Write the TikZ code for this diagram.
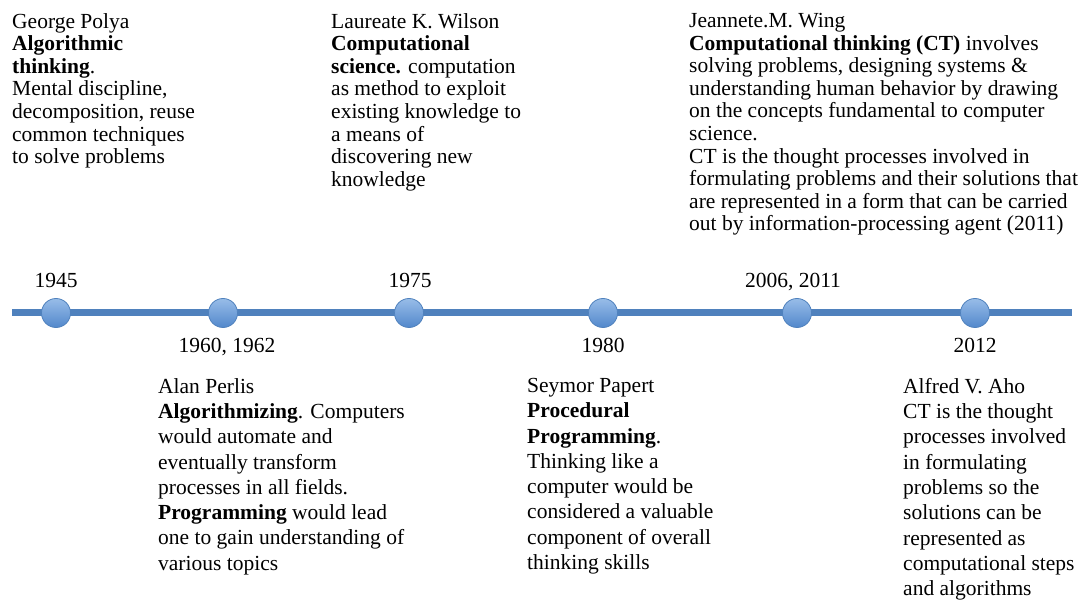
\documentclass[tikz,border=0pt]{standalone}
\usepackage{fontspec}
\setmainfont{Liberation Serif}
\usetikzlibrary{positioning}
\definecolor{lineblue}{RGB}{79,129,189}
\definecolor{dotblue}{RGB}{108,160,222}
\definecolor{dotdark}{RGB}{82,136,204}
\tikzset{
 event/.style={circle,minimum size=29pt,inner sep=0pt,draw=lineblue,line width=0.8pt,top color=dotblue!70!white,bottom color=dotdark},
 year/.style={anchor=base,inner sep=0pt,font=\fontsize{21.5}{22.6}\selectfont},
 upper/.style={anchor=north west,align=left,inner sep=0pt,font=\fontsize{21.5}{22.6}\selectfont},
 lower/.style={anchor=north west,align=left,inner sep=0pt,font=\fontsize{21.5}{25.3}\selectfont}
}

\begin{document}
\begin{tikzpicture}[x=1pt,y=-1pt]
\useasboundingbox (0,0) rectangle (1084,609);
% time line
\coordinate (tstart) at (12,313);
\coordinate (tend) at (1072,313);
\draw[lineblue,line width=7pt] (tstart) -- (tend);
\node[event] (e1945) at (56,313) {};
\node[event] (e1960) at (223,313) {};
\node[event] (e1975) at (409,313) {};
\node[event] (e1980) at (603,313) {};
\node[event] (e2006) at (797,313) {};
\node[event] (e2012) at (975,313) {};
% years
\node[year] (y1945) at (56,288) {1945};
\node[year] (y1975) at (410,288) {1975};
\node[year] (y2006) at (793,288) {2006, 2011};
\node[year] (y1960) at (227,353) {1960, 1962};
\node[year] (y1980) at (603,353) {1980};
\node[year] (y2012) at (975,353) {2012};
% above the line
\node[upper] (polya) at (12,13) {George Polya\\
 \textbf{Algorithmic}\\
 \textbf{thinking}.\\
 Mental discipline,\\
 decomposition, reuse\\
 common techniques\\
 to solve problems};
\node[upper] (wilson) at (331,13) {Laureate K. Wilson\\
 \textbf{Computational}\\
 \textbf{science.} computation\\
 as method to exploit\\
 existing knowledge to\\
 a means of\\
 discovering new\\
 knowledge};
\node[upper] (wing) at (689,13) {Jeannete.M. Wing\\
 \textbf{Computational thinking (CT)} involves\\
 solving problems, designing systems \&\\
 understanding human behavior by drawing\\
 on the concepts fundamental to computer\\
 science.\\
 CT is the thought processes involved in\\
 formulating problems and their solutions that\\
 are represented in a form that can be carried\\
 out by information-processing agent (2011)};
% below the line
\node[lower] (perlis) at (158,378) {Alan Perlis\\
 \textbf{Algorithmizing}. Computers\\
 would automate and\\
 eventually transform\\
 processes in all fields.\\
 \textbf{Programming} would lead\\
 one to gain understanding of\\
 various topics};
\node[lower] (papert) at (527,378) {Seymor Papert\\
 \textbf{Procedural}\\
 \textbf{Programming}.\\
 Thinking like a\\
 computer would be\\
 considered a valuable\\
 component of overall\\
 thinking skills};
\node[lower] (aho) at (903,378) {Alfred V. Aho\\
 CT is the thought\\
 processes involved\\
 in formulating\\
 problems so the\\
 solutions can be\\
 represented as\\
 computational steps\\
 and algorithms};
\end{tikzpicture}
\end{document}
